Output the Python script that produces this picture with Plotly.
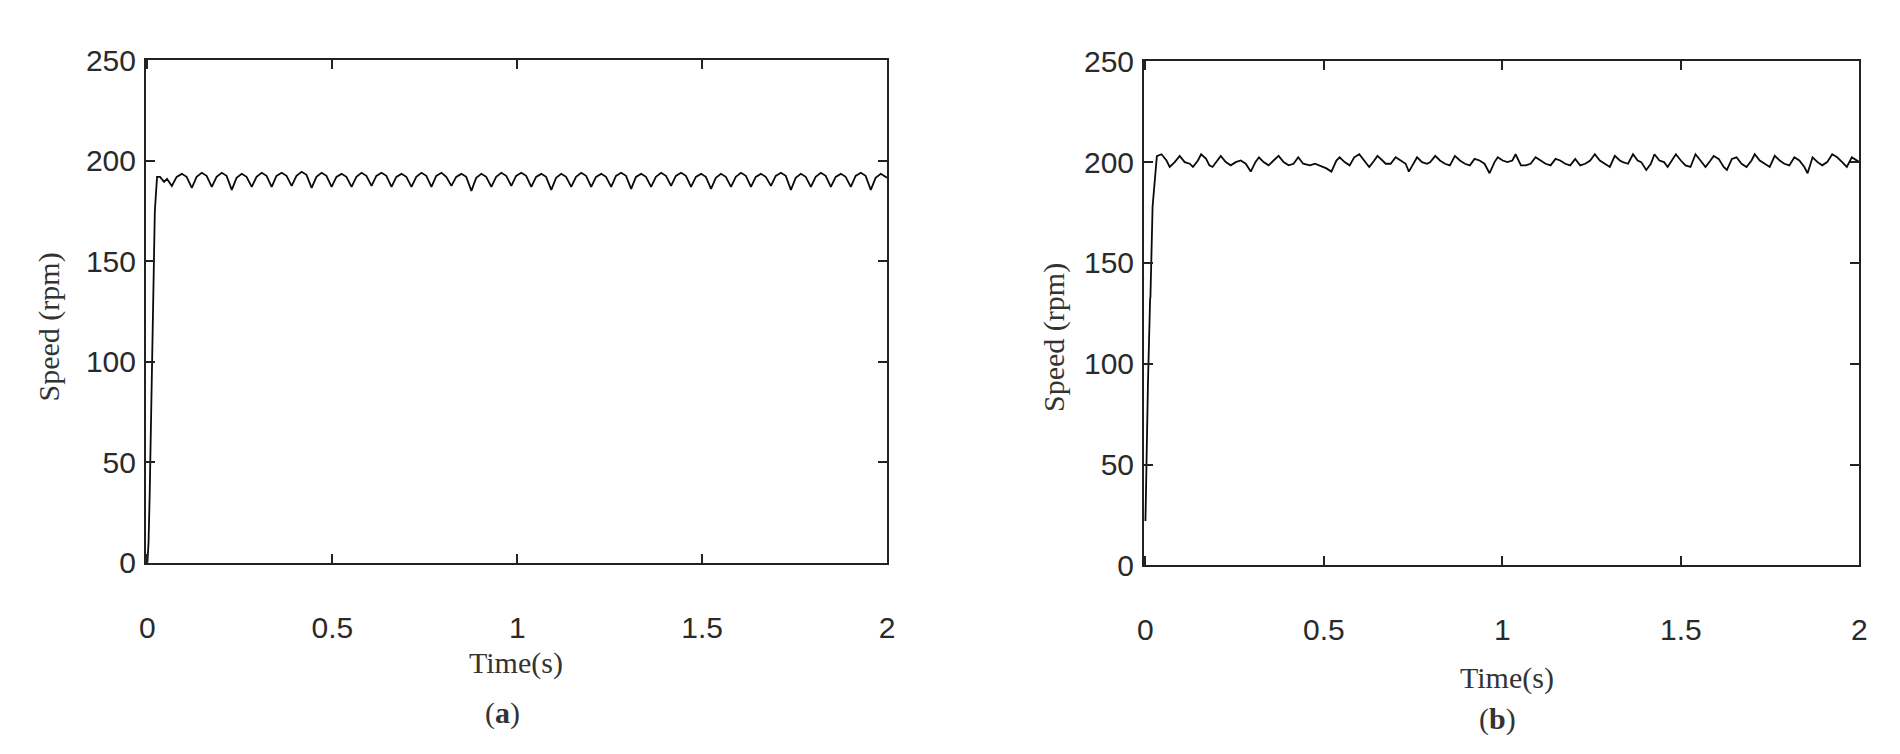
import plotly.graph_objects as go

# ---------------- data ----------------
x_ticks = [0, 0.5, 1, 1.5, 2]
x_tick_labels = ["0", "0.5", "1", "1.5", "2"]
y_ticks = [0, 50, 100, 150, 200, 250]
y_tick_labels = ["0", "50", "100", "150", "200", "250"]

# panel (a) time (s)
time_a = [0, 0.003, 0.006, 0.010, 0.016, 0.020, 0.026, 0.034, 0.045, 0.053,
          0.066, 0.079, 0.093, 0.106, 0.120, 0.133, 0.147, 0.160,
          0.174, 0.187, 0.201, 0.214, 0.228, 0.241, 0.255, 0.268,
          0.282, 0.295, 0.309, 0.322, 0.336, 0.349, 0.363, 0.376,
          0.390, 0.403, 0.417, 0.430, 0.444, 0.457, 0.471, 0.484,
          0.498, 0.511, 0.525, 0.538, 0.552, 0.565, 0.579, 0.592,
          0.606, 0.619, 0.633, 0.646, 0.660, 0.673, 0.687, 0.700,
          0.714, 0.727, 0.741, 0.754, 0.768, 0.781, 0.795, 0.808,
          0.822, 0.835, 0.849, 0.862, 0.876, 0.889, 0.903, 0.916,
          0.930, 0.943, 0.957, 0.970, 0.984, 0.997, 1.011, 1.024,
          1.038, 1.051, 1.065, 1.078, 1.092, 1.105, 1.119, 1.132,
          1.146, 1.159, 1.173, 1.186, 1.200, 1.213, 1.227, 1.240,
          1.254, 1.267, 1.281, 1.294, 1.308, 1.321, 1.335, 1.348,
          1.362, 1.375, 1.389, 1.402, 1.416, 1.429, 1.443, 1.456,
          1.470, 1.483, 1.497, 1.510, 1.524, 1.537, 1.551, 1.564,
          1.578, 1.591, 1.605, 1.618, 1.632, 1.645, 1.659, 1.672,
          1.686, 1.699, 1.713, 1.726, 1.740, 1.753, 1.767, 1.780,
          1.794, 1.807, 1.821, 1.834, 1.848, 1.861, 1.875, 1.888,
          1.902, 1.915, 1.929, 1.942, 1.956, 1.969, 1.983, 2.000]
# panel (a) speed (rpm)
speed_a = [0, 10, 33, 80, 148, 175, 192, 192, 189.5, 191,
           187.5, 192, 193.5, 192, 186.5, 192, 194, 192.5,
           187, 192, 194, 192.5, 185.5, 191.5, 193.5, 192,
           187, 192, 194, 192.5, 187, 192.5, 194, 192.5,
           187.5, 192.5, 194.5, 193, 186.5, 192, 194, 192.5,
           187, 192, 193.5, 192, 187, 192, 194, 192.5,
           187.5, 192.5, 194, 192.5, 187, 192, 193.5, 192,
           187, 192, 194, 192.5, 187, 192.5, 194, 192,
           187.5, 192, 193.5, 192, 185, 191.5, 193.5, 192,
           187, 192, 194, 192.5, 187.5, 192.5, 194, 192.5,
           187, 192, 193.5, 192, 185.5, 191.5, 193.5, 192,
           187, 192, 194, 192.5, 187, 192, 193.5, 192,
           187, 192.5, 194, 192.5, 186, 192, 193.5, 192,
           187, 192, 194, 192.5, 187.5, 192.5, 194, 192.5,
           187, 192, 193.5, 192, 186, 191.5, 193.5, 192,
           187, 192, 194, 192.5, 187, 192, 193.5, 192,
           187.5, 192.5, 194, 192.5, 185.5, 191.5, 193.5, 192,
           187, 192, 194, 192.5, 187, 192, 193.5, 192,
           187, 192.5, 194, 192.5, 185.5, 191.5, 193.5, 191.5]

# panel (b) time (s)
time_b = [0, 0.006, 0.007, 0.013, 0.014, 0.020, 0.021, 0.026, 0.032,
          0.045, 0.059, 0.068, 0.082, 0.096, 0.110, 0.124, 0.133, 0.147, 0.156,
          0.170, 0.179, 0.188, 0.202, 0.211, 0.225, 0.239, 0.253, 0.267, 0.281,
          0.295, 0.308, 0.318, 0.331, 0.345, 0.359, 0.373, 0.387, 0.401, 0.415,
          0.428, 0.442, 0.461, 0.475, 0.488, 0.507, 0.521, 0.535, 0.544, 0.558,
          0.572, 0.585, 0.599, 0.613, 0.627, 0.641, 0.650, 0.664,
          0.673, 0.687, 0.701, 0.715, 0.729, 0.738, 0.752, 0.761, 0.775, 0.789,
          0.798, 0.812, 0.825, 0.839, 0.853, 0.867, 0.881, 0.895, 0.909, 0.922,
          0.936, 0.950, 0.964, 0.978, 0.987, 1.001, 1.014, 1.028, 1.037, 1.052,
          1.065, 1.079, 1.093, 1.107, 1.121, 1.135, 1.149, 1.162, 1.176, 1.190,
          1.204, 1.218, 1.232, 1.246, 1.259, 1.273, 1.287, 1.301, 1.315, 1.329,
          1.338, 1.352, 1.366, 1.379, 1.389, 1.403, 1.416, 1.426, 1.440, 1.453,
          1.463, 1.476, 1.486, 1.500, 1.513, 1.527, 1.541, 1.555, 1.569, 1.583,
          1.592, 1.606, 1.620, 1.629, 1.643, 1.656, 1.670, 1.684, 1.698, 1.707,
          1.721, 1.735, 1.749, 1.763, 1.777, 1.790, 1.804, 1.818, 1.832, 1.846,
          1.855, 1.869, 1.883, 1.896, 1.910, 1.924, 1.938, 1.952, 1.965, 1.979,
          1.994, 2.000]
# panel (b) speed (rpm)
speed_b = [22, 89, 90, 132, 133, 178, 180, 194, 203,
           203.9, 200.8, 197.6, 200, 203.1, 200, 199.2, 197.6, 200.8, 203.9,
           201.6, 198.4, 197.6, 200.8, 203.1, 200, 198.4, 200, 200.8, 199.2,
           195.3, 200, 202.4, 200, 198.4, 200.8, 203.1, 200, 198.4, 199.2,
           202.4, 199.2, 198.4, 199.2, 198.4, 196.9, 195.3, 200.8, 202.4, 200,
           198.4, 202.4, 203.9, 200.8, 197.6, 200.8, 203.1, 200.8,
           199.2, 199.2, 202.4, 200.8, 199.2, 195.3, 200, 202.4, 200, 199.2,
           200, 203.1, 200.8, 199.2, 198.4, 203.1, 200.8, 199.2, 198.4, 201.6,
           200.8, 199.2, 194.5, 200, 202.4, 200.8, 200, 200.8, 203.9, 198.4,
           198.4, 199.2, 202.4, 200.8, 199.2, 198.4, 201.6, 200.8, 199.2, 198.4,
           201.6, 198.4, 199.2, 200.8, 203.9, 200.8, 199.2, 197.6, 203.1, 200.8,
           200, 199.2, 203.9, 200.8, 200, 196.1, 199.2, 203.9, 200.8, 200,
           197.6, 200.8, 203.9, 200.8, 198.4, 197.6, 203.9, 200.8, 197.6, 200.8,
           203.1, 201.6, 197.6, 196.1, 201.6, 202.4, 199.2, 197.6, 200.8, 203.9,
           200.8, 199.2, 197.6, 203.1, 200.8, 199.2, 198.4, 202.4, 200.8, 197.6,
           194.5, 202.4, 200, 198.4, 200, 203.9, 202.4, 200, 197.6, 202.4,
           200.8, 200]

# ---------------- figure ----------------
W, H = 1900, 754
fig = go.Figure()
fig.add_trace(go.Scatter(x=time_a, y=speed_a, mode="lines",
                         line=dict(color="#0a0a0a", width=1.8),
                         xaxis="x", yaxis="y", showlegend=False))
fig.add_trace(go.Scatter(x=time_b, y=speed_b, mode="lines",
                         line=dict(color="#0a0a0a", width=1.8),
                         xaxis="x2", yaxis="y2", showlegend=False))

tick_font = dict(family="Liberation Sans, Arial, sans-serif", size=30, color="#2a2a2a")

def xax(domain, anchor):
    return dict(domain=domain, anchor=anchor, range=[-0.004, 2],
                tickvals=x_ticks, ticktext=x_tick_labels,
                ticks="inside", ticklen=9, tickwidth=1.5, tickcolor="#222222",
                showline=True, linecolor="#222222", linewidth=2, mirror="ticks",
                showgrid=False, zeroline=False, tickfont=tick_font,
                ticklabelstandoff=37)

def yax(domain, anchor):
    return dict(domain=domain, anchor=anchor, range=[0, 250],
                tickvals=y_ticks, ticktext=y_tick_labels,
                ticks="inside", ticklen=9, tickwidth=1.5, tickcolor="#222222",
                showline=True, linecolor="#222222", linewidth=2, mirror="ticks",
                showgrid=False, zeroline=False, tickfont=tick_font,
                ticklabelstandoff=2)

title_font = dict(family="Liberation Serif, Times New Roman, serif", size=30, color="#333333")

def px(xp, yp):
    return xp / W, 1 - yp / H

annots = []
for text, xp, yp, ang in [("Speed (rpm)", 34, 316, -90),
                          ("Time(s)", 505, 668, 0),
                          ("(<b>a</b>)", 491, 720, 0),
                          ("Speed (rpm)", 1048, 327, -90),
                          ("Time(s)", 1504, 684, 0),
                          ("(<b>b</b>)", 1494, 727, 0)]:
    ax_, ay_ = px(xp, yp)
    annots.append(dict(text=text, x=ax_, y=ay_, xref="paper", yref="paper",
                       xanchor="center", yanchor="middle", showarrow=False,
                       textangle=ang, font=title_font))

fig.update_layout(
    width=W, height=H,
    margin=dict(l=0, r=0, t=0, b=0),
    paper_bgcolor="white", plot_bgcolor="white",
    xaxis=xax([132 / W, 879 / W], "y"),
    yaxis=yax([1 - 563 / H, 1 - 37 / H], "x"),
    xaxis2=xax([1138 / W, 1859 / W], "y2"),
    yaxis2=yax([1 - 566 / H, 1 - 38 / H], "x2"),
    annotations=annots,
)

fig.write_html("out.html")
